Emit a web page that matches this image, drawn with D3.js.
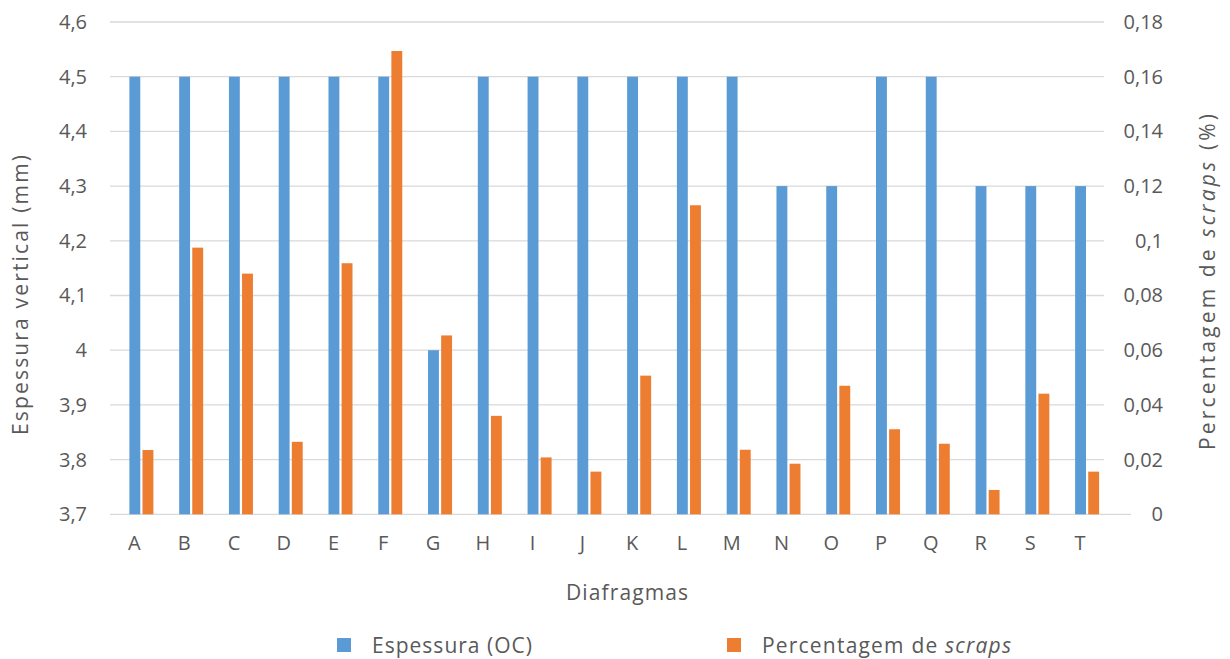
<!DOCTYPE html>
<html>
<head>
<meta charset="utf-8">
<script src="https://cdn.jsdelivr.net/npm/d3@7"></script>
<style>
  html, body { margin: 0; padding: 0; background: #fff; }
  svg { display: block; }
  text { font-family: "Open Sans", "Noto Sans", sans-serif; fill: #595959; }
</style>
</head>
<body>
<svg id="chart" width="1230" height="659"></svg>
<script>
// Diafragmas e respetivas medições
const categories = ["A","B","C","D","E","F","G","H","I","J","K","L","M","N","O","P","Q","R","S","T"];
const espessura = [4.5,4.5,4.5,4.5,4.5,4.5,4.0,4.5,4.5,4.5,4.5,4.5,4.5,4.3,4.3,4.5,4.5,4.3,4.3,4.3];
const scraps = [0.0235,0.0975,0.088,0.0265,0.0918,0.1694,0.0654,0.036,0.0208,0.0156,0.0507,0.113,0.0236,0.0185,0.047,0.0311,0.0258,0.0089,0.0441,0.0156];
const leftTicks = [3.7,3.8,3.9,4.0,4.1,4.2,4.3,4.4,4.5,4.6];
const rightTicks = [0,0.02,0.04,0.06,0.08,0.1,0.12,0.14,0.16,0.18];
const seriesNames = ["Espessura (OC)", "Percentagem de scraps"];
const colors = ["#5B9BD5", "#ED7D31"];

const svg = d3.select("#chart");
const plot = { left: 110, right: 1104, top: 22, bottom: 514.3 };

const x = d3.scaleBand().domain(categories).range([109.5, 1105]).paddingInner(0).paddingOuter(0);
const sub = d3.scaleBand().domain(["esp", "scr"]).range([-5, 19]).paddingInner(0.17);
const yL = d3.scaleLinear().domain([3.7, 4.6]).range([plot.bottom, plot.top]);
const yR = d3.scaleLinear().domain([0, 0.18]).range([plot.bottom, plot.top]);

const fmt = v => d3.format(".2~f")(v).replace(".", ",");

// linhas de grelha horizontais
svg.append("g")
  .selectAll("line")
  .data(leftTicks.slice(1))
  .join("line")
  .attr("x1", plot.left).attr("x2", plot.right)
  .attr("y1", d => yL(d)).attr("y2", d => yL(d))
  .attr("stroke", "#d9d9d9").attr("stroke-width", 1.3);

// eixo das categorias
svg.append("line")
  .attr("x1", plot.left).attr("x2", 1131)
  .attr("y1", plot.bottom).attr("y2", plot.bottom)
  .attr("stroke", "#d9d9d9").attr("stroke-width", 1.3);

// barras da espessura (eixo esquerdo)
svg.append("g")
  .selectAll("rect")
  .data(categories.map((c, i) => ({ c, v: espessura[i] })))
  .join("rect")
  .attr("x", d => x(d.c) + x.bandwidth() / 2 + sub("esp"))
  .attr("width", sub.bandwidth())
  .attr("y", d => yL(d.v))
  .attr("height", d => yL(3.7) - yL(d.v))
  .attr("fill", colors[0]);

// barras da percentagem de scraps (eixo direito)
svg.append("g")
  .selectAll("rect")
  .data(categories.map((c, i) => ({ c, v: scraps[i] })))
  .join("rect")
  .attr("x", d => x(d.c) + x.bandwidth() / 2 + sub("scr"))
  .attr("width", sub.bandwidth())
  .attr("y", d => yR(d.v))
  .attr("height", d => yR(0) - yR(d.v))
  .attr("fill", colors[1]);

const fontSize = 20;
const titleSize = 21;

// eixo esquerdo
const axL = d3.axisLeft(yL).tickValues(leftTicks).tickFormat(fmt).tickSize(0).tickPadding(0);
const gL = svg.append("g").attr("transform", "translate(87,0)").call(axL);
gL.select(".domain").remove();
gL.selectAll("text").attr("font-size", fontSize).attr("font-family", null).attr("fill", "#595959").attr("dy", "0.32em");

// eixo direito
const axR = d3.axisLeft(yR).tickValues(rightTicks).tickFormat(fmt).tickSize(0).tickPadding(0);
const gR = svg.append("g").attr("transform", "translate(1163,0)").call(axR);
gR.select(".domain").remove();
gR.selectAll("text").attr("font-size", fontSize).attr("font-family", null).attr("fill", "#595959").attr("dy", "0.32em");

// eixo inferior
const axB = d3.axisBottom(x).tickSize(0).tickPadding(0);
const gB = svg.append("g").attr("transform", "translate(0,536)").call(axB);
gB.select(".domain").remove();
gB.selectAll("text").attr("font-size", fontSize).attr("font-family", null).attr("fill", "#595959").attr("dy", "0.71em");

// títulos dos eixos
svg.append("text")
  .attr("x", 627).attr("y", 600)
  .attr("text-anchor", "middle")
  .attr("font-size", titleSize)
  .attr("textLength", 122).attr("lengthAdjust", "spacing")
  .text("Diafragmas");

svg.append("text")
  .attr("transform", "translate(28,295) rotate(-90)")
  .attr("text-anchor", "middle")
  .attr("font-size", titleSize)
  .attr("textLength", 280).attr("lengthAdjust", "spacing")
  .text("Espessura vertical (mm)");

const rt = svg.append("text")
  .attr("transform", "translate(1215,282) rotate(-90)")
  .attr("text-anchor", "middle")
  .attr("font-size", titleSize)
  .attr("textLength", 336).attr("lengthAdjust", "spacing");
rt.append("tspan").text("Percentagem de ");
rt.append("tspan").attr("font-style", "italic").text("scraps");
rt.append("tspan").text(" (%)");

// legenda
const legendX = [337, 727];
const legendLen = [160, 249];
const lg = svg.append("g")
  .selectAll("g")
  .data(seriesNames)
  .join("g")
  .attr("transform", (d, i) => `translate(${legendX[i]},638)`);
lg.append("rect").attr("width", 14).attr("height", 14).attr("fill", (d, i) => colors[i]);
const lt = lg.append("text")
  .attr("x", 35).attr("y", 14.5)
  .attr("font-size", titleSize)
  .attr("textLength", (d, i) => legendLen[i]).attr("lengthAdjust", "spacing");
lt.each(function(d, i) {
  const t = d3.select(this);
  if (i === 0) {
    t.text(d);
  } else {
    t.append("tspan").text("Percentagem de ");
    t.append("tspan").attr("font-style", "italic").text("scraps");
  }
});
</script>
</body>
</html>
